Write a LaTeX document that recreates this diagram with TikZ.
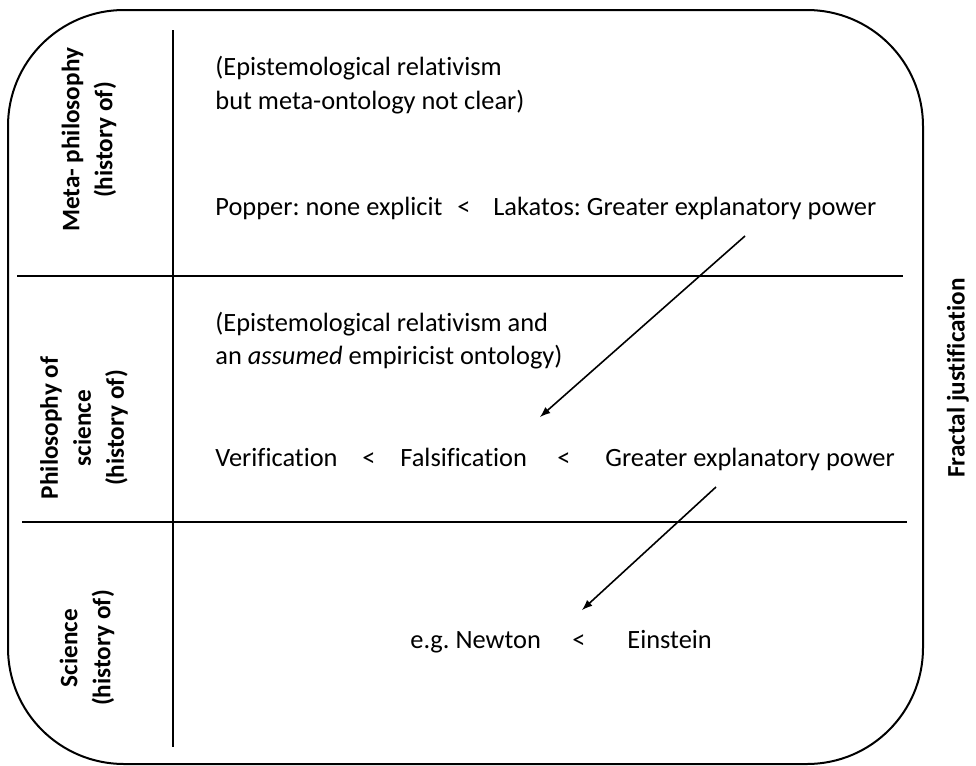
\documentclass[tikz,border=0pt]{standalone}
\usepackage{fontspec}
\setmainfont{Carlito}[Ligatures=NoCommon]
\frenchspacing
\usetikzlibrary{arrows}

\begin{document}
\begin{tikzpicture}[x=0.5pt,y=-0.5pt]
	\definecolor{ink}{gray}{0.}
	\tikzset{
		txt/.style={anchor=base west, inner sep=0pt, text=ink, font=\fontsize{13.2}{17}\selectfont},
		rowlabel/.style={rotate=90, align=center, inner sep=0pt, text=ink, font=\fontsize{12.6}{16.5}\selectfont\bfseries},
		divider/.style={draw=ink, line width=1.2pt},
		jump/.style={-latex, draw=ink, line width=0.8pt}
	}
	\useasboundingbox (0,0) rectangle (976,766);
	%% Frame ---------
	\draw[ink, line width=1pt, rounded corners=58pt] (8,10) rectangle (923,764);
	\draw[divider] (173,30) -- (173,747);
	\draw[divider] (17,276) -- (903,276);
	\draw[divider] (22,522) -- (907,522);
	%% Row labels ------
	\node[rowlabel] (meta)  at (89,140) {Meta- philosophy\\(history of)};
	\node[rowlabel] (phil)  at (84,428) {Philosophy of\\science\\(history of)};
	\node[rowlabel] (sci)   at (87,648) {Science\\(history of)};
	\node[rowlabel] (fract) at (958,378) {Fractal justification};
	%% Meta-philosophy row ------
	\node[txt] (meta1) at (215,75) {(Epistemological relativism};
	\node[txt] (meta2) at (215,109) {but meta-ontology not clear)};
	\node[txt] (popper) at (215,215) {Popper: none explicit};
	\node[txt] (lt1) at (457,215) {<};
	\node[txt] (lakatos) at (493,215) {Lakatos: Greater explanatory power};
	%% Philosophy of science row ------
	\node[txt] (phil1) at (215,331) {(Epistemological relativism and};
	\node[txt] (phil2) at (215,364) {an \textit{assumed} empiricist ontology)};
	\node[txt] (verif) at (215,466) {Verification};
	\node[txt] (lt2) at (362,466) {<};
	\node[txt] (falsif) at (400,466) {Falsification};
	\node[txt] (lt3) at (557,466) {<};
	\node[txt] (greater) at (605,466) {Greater explanatory power};
	%% Science row ------
	\node[txt] (newton) at (410,648) {e.g. Newton};
	\node[txt] (lt4) at (572,648) {<};
	\node[txt] (einstein) at (627,648) {Einstein};
	%% Arrows ---------
	\coordinate (lakfoot) at (745,236);
	\coordinate (falshead) at (540,417);
	\coordinate (grfoot) at (716,487);
	\coordinate (newthead) at (582,610);
	\draw[jump] (lakfoot) -- (falshead);
	\draw[jump] (grfoot) -- (newthead);
\end{tikzpicture}
\end{document}
